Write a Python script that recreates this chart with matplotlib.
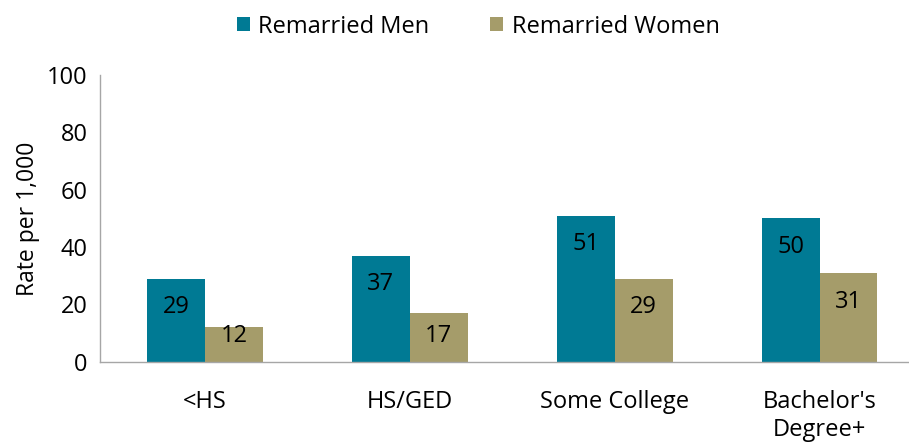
import matplotlib.pyplot as plt
import numpy as np

plt.rcParams['font.family'] = ['Open Sans', 'DejaVu Sans']

categories = ["<HS", "HS/GED", "Some College", "Bachelor's\nDegree+"]
men = [29, 37, 51, 50]
women = [12, 17, 29, 31]

men_color = '#007A94'
women_color = '#A59C6A'

fig = plt.figure(figsize=(9.09, 4.44), dpi=100)
ax = fig.add_axes([0.110, 0.185, 0.902, 0.646])

x = np.arange(len(categories))
w = 0.283
b1 = ax.bar(x - w/2, men, w, color=men_color, label='Remarried Men')
b2 = ax.bar(x + w/2, women, w, color=women_color, label='Remarried Women')

# labels sit near the top inside each bar
for bars, vals in ((b1, men), (b2, women)):
    for rect, v in zip(bars, vals):
        ax.text(rect.get_x() + rect.get_width()/2, max(v - 10, 9), str(v),
                ha='center', va='center', fontsize=17, color='black')

ax.set_xlim(-0.512, 3.49)
ax.set_ylim(0, 100)
ax.set_yticks([0, 20, 40, 60, 80, 100])
ax.set_xticks(x)
ax.set_xticklabels(categories, fontsize=17, linespacing=1.25, va='top')
ax.tick_params(axis='both', length=0, labelsize=17)
ax.tick_params(axis='x', pad=20)
ax.tick_params(axis='y', pad=9)
ax.set_ylabel('Rate per 1,000', fontsize=16.5, labelpad=5)

for s in ['top', 'right']:
    ax.spines[s].set_visible(False)
for s in ['left', 'bottom']:
    ax.spines[s].set_color('#A6A6A6')
    ax.spines[s].set_linewidth(1)

fig.legend(loc='upper center', bbox_to_anchor=(0.526, 1.015), ncol=2, frameon=False,
           fontsize=17, handlelength=0.55, handleheight=0.55, handletextpad=0.35,
           columnspacing=2.6)

fig.savefig('out.png', dpi=100)
